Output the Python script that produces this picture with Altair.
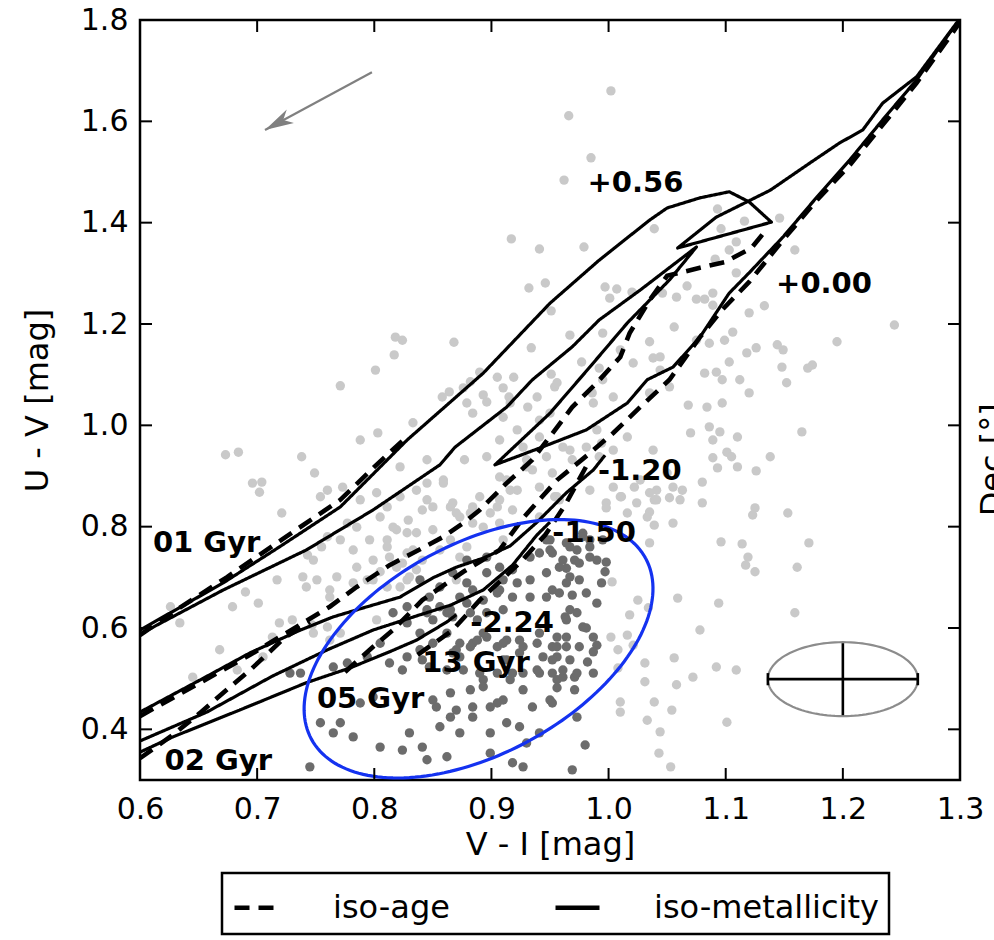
import math
import altair as alt
import pandas as pd

# ---------------- values ----------------
X_DOM = [0.6, 1.3]
Y_DOM = [0.3, 1.8]
x_ticks = [0.6, 0.7, 0.8, 0.9, 1.0, 1.1, 1.2, 1.3]
y_ticks = [0.4, 0.6, 0.8, 1.0, 1.2, 1.4, 1.6, 1.8]

# light grey clusters (whole sample)
light_pts = [
    (0.917,1.368),(0.941,1.348),(0.932,1.271),(0.946,1.281),(0.951,1.226),(0.818,1.174),(0.824,1.168),
    (0.868,1.164),(0.817,1.139),(0.934,1.153),(0.801,1.109),(0.771,1.078),(0.905,1.095),(0.919,1.095),
    (0.910,1.074),(0.951,1.101),(0.954,1.076),(0.890,1.105),(0.882,1.086),(0.876,1.074),(0.864,1.066),
    (0.858,1.056),(0.893,1.060),(0.915,1.056),(0.939,1.056),
    (1.002,1.660),(0.966,1.611),(0.985,1.528),(0.962,1.484),(1.039,1.388),(0.979,1.352),(1.093,1.427),
    (1.116,1.403),(1.096,1.388),(1.146,1.409),(1.159,1.346),(1.103,1.346),(1.109,1.362),(1.091,1.328),
    (0.997,1.273),(1.007,1.269),(1.001,1.251),(1.020,1.263),(1.067,1.275),(1.058,1.253),(1.046,1.261),
    (1.075,1.249),(1.082,1.249),(1.089,1.261),(1.089,1.237),(1.120,1.222),(1.133,1.236),(1.109,1.301),
    (1.056,1.194),(0.967,1.178),(0.995,1.182),(1.035,1.165),(1.010,1.149),(1.075,1.168),(1.106,1.184),
    (1.099,1.168),(1.118,1.143),(1.126,1.153),(1.144,1.159),(1.149,1.149),(1.244,1.198),(1.195,1.165),
    (1.174,1.119),(1.170,1.113),(1.148,1.115),(1.103,1.125),(1.082,1.103),(1.092,1.105),(1.097,1.090),
    (1.112,1.090),(1.120,1.064),(1.152,1.084),(1.021,1.123),(1.038,1.133),(1.044,1.109),(0.992,1.113),
    (0.977,1.125),(0.986,1.064),(1.052,1.076),(1.035,1.064),
    (1.165,0.987),(1.068,1.040),(1.084,1.036),(1.097,1.044),(1.086,0.997),(1.095,0.987),(1.110,0.977),
    (1.070,0.985),(1.089,0.971),(1.101,0.947),(1.105,0.938),(1.089,0.936),(1.093,0.916),(1.110,0.918),
    (1.126,0.910),(1.138,0.938),(1.080,0.888),(1.080,0.847),(1.063,0.872),(1.055,0.878),(1.052,0.857),
    (1.035,0.867),(1.041,0.872),(1.022,0.878),(1.011,0.859),(0.998,0.847),(1.035,0.829),(1.039,0.853),
    (1.055,0.807),(1.039,0.803),(1.033,0.819),(1.125,0.837),(1.123,0.823),(1.153,0.827),(1.096,0.770),
    (1.114,0.766),(1.171,0.768),(1.119,0.740),(1.117,0.724),(1.125,0.711),(1.161,0.720),(1.035,0.768),
    (1.003,0.691),(1.025,0.655),(1.059,0.659),(1.094,0.649),(1.159,0.630),(1.018,0.626),(1.034,0.640),
    (1.078,0.596),(1.002,0.582),(1.016,0.586),(1.021,0.566),(1.008,0.557),(1.056,0.541),(1.031,0.531),
    (1.008,0.521),(1.092,0.523),(1.109,0.517),(1.072,0.503),(1.031,0.494),(1.058,0.488),(1.010,0.454),
    (1.039,0.454),(1.054,0.438),(1.010,0.434),(1.033,0.418),(1.101,0.414),(1.044,0.395),(1.043,0.353),
    (1.053,0.326),
    (0.673,0.942),(0.684,0.947),(0.738,0.938),(0.749,0.906),(0.696,0.886),(0.704,0.888),(0.702,0.868),
    (0.721,0.827),(0.754,0.859),(0.760,0.872),(0.773,0.878),(0.788,0.853),(0.802,0.867),(0.805,0.819),
    (0.811,0.839),(0.822,0.859),(0.822,0.918),(0.836,0.872),(0.845,0.932),(0.845,0.853),(0.850,0.839),
    (0.859,0.892),(0.867,0.847),(0.873,0.819),(0.877,0.932),(0.841,0.833),(0.829,0.813),(0.819,0.794),
    (0.836,0.788),(0.850,0.794),(0.811,0.774),(0.796,0.774),(0.782,0.754),(0.771,0.774),(0.760,0.780),
    (0.755,0.760),(0.743,0.744),(0.785,0.720),(0.799,0.734),(0.813,0.740),(0.824,0.728),(0.833,0.754),
    (0.799,0.695),(0.811,0.681),(0.822,0.681),(0.836,0.715),(0.828,0.695),(0.805,0.711),(0.856,0.754),
    (0.865,0.774),(0.873,0.740),(0.768,0.701),(0.782,0.689),(0.739,0.701),(0.717,0.695),(0.701,0.649),
    (0.690,0.671),(0.679,0.642),(0.730,0.616),(0.747,0.606),(0.762,0.661),(0.668,0.557),(0.713,0.582),
    (0.645,0.503),(0.626,0.642),(0.634,0.610),(0.762,0.576),
    (0.788,0.971),(0.803,0.985),(0.833,1.005),(0.884,1.024),(0.916,1.044),(0.941,1.010),(0.950,1.024),
    (0.922,0.991),(0.907,0.971),(0.927,0.957),(0.947,0.938),(0.935,0.912),(0.952,0.906),(0.913,0.892),
    (0.922,0.872),(0.941,0.878),(0.954,0.859),(0.907,0.853),(0.884,0.839),(0.899,0.827),(0.870,0.827),
    (0.884,0.807),(0.907,0.807),(0.941,0.819),
    (0.879,1.044),(0.896,1.046),(0.910,1.016),(0.931,1.036),(0.987,1.044),(1.004,1.056),(0.995,1.090),
    (0.956,1.084),(1.016,0.977),(1.004,0.951),(0.992,0.938),(0.981,0.957),(0.967,0.951),(0.969,0.932),
    (0.941,0.977),(0.930,0.932),(0.907,0.898),(0.859,0.886),(0.845,0.886),(0.896,0.938),(1.044,1.135),
    (1.086,1.162),
    (0.994,0.965),(1.010,0.859),(1.024,0.847),(1.041,0.853),(1.038,0.951),(1.050,0.906),(0.958,0.853),
    (0.998,0.837),(1.027,0.892),(1.061,0.853),(1.004,0.878),(0.984,0.872),(1.016,0.827),(0.956,0.859),
    (0.916,0.872),(0.905,0.839),(0.918,0.833),(0.890,0.859),(0.882,0.827),(0.865,0.839),(0.930,0.918),
    (0.961,0.957),(0.990,0.991),(0.705,0.543),(0.719,0.610),(0.683,0.517),
    (0.785,0.799),(0.816,0.799),(0.828,0.788),(0.811,0.760),(0.828,0.748),(0.841,0.734),(0.819,0.720),
    (0.794,0.695),(0.830,0.701),(0.748,0.734),(0.751,0.695),(0.742,0.681),(0.762,0.675),(0.748,0.590),
    (0.760,0.602),(0.771,0.590),(0.802,0.616),(0.777,0.807),(0.879,0.760),(0.893,0.799),(0.910,0.774),
    (0.870,0.695),
]

# dark grey clusters (selected sample)
dark_pts = [
    (0.728,0.511),(0.737,0.511),(0.754,0.413),(0.771,0.413),(0.782,0.385),(0.765,0.393),(0.805,0.365),
    (0.824,0.359),(0.830,0.393),(0.841,0.365),(0.865,0.424),(0.856,0.405),(0.873,0.393),(0.884,0.424),
    (0.899,0.393),(0.913,0.413),(0.924,0.405),(0.930,0.373),(0.941,0.393),(0.845,0.340),(0.862,0.346),
    (0.899,0.353),(0.918,0.334),(0.927,0.326),(0.745,0.326),(0.788,0.452),(0.799,0.464),(0.850,0.458),
    (0.865,0.472),(0.882,0.478),(0.893,0.498),(0.905,0.511),(0.916,0.498),(0.927,0.478),(0.941,0.511),
    (0.956,0.498),(0.950,0.458),(0.935,0.444),(0.905,0.452),(0.884,0.444),(0.870,0.438),(0.913,0.576),
    (0.927,0.563),(0.941,0.590),(0.952,0.563),(0.884,0.570),(0.873,0.543),(0.850,0.570),(0.839,0.590),
    (0.828,0.610),(0.816,0.630),(0.828,0.642),(0.845,0.636),(0.862,0.630),(0.805,0.570),(0.794,0.543),
    (0.777,0.531),(0.765,0.523),(0.813,0.531),(0.824,0.517),
    (0.952,0.748),(0.971,0.734),(0.964,0.718),(0.967,0.701),(0.984,0.740),(0.994,0.689),(0.998,0.730),
    (0.997,0.711),(0.952,0.675),(0.958,0.669),(0.969,0.665),(0.967,0.636),(0.990,0.649),(0.963,0.622),
    (0.981,0.600),(0.956,0.582),(0.964,0.563),(0.990,0.566),(0.987,0.553),(0.982,0.533),(0.956,0.543),
    (0.952,0.511),(0.961,0.503),(0.971,0.503),(0.987,0.511),(0.956,0.482),(0.971,0.478),(0.952,0.452),
    (0.973,0.424),(0.980,0.369),(0.969,0.320),(0.978,0.787),(0.984,0.774),(0.950,0.774),(0.967,0.760),
    (0.950,0.754),(0.941,0.748),(0.933,0.740),(0.918,0.715),(0.907,0.720),(0.896,0.709),(0.884,0.675),
    (0.879,0.689),(0.922,0.689),(0.933,0.695),(0.947,0.709),(0.958,0.720),(0.964,0.689),(0.975,0.695),
    (0.981,0.669),(0.947,0.661),(0.933,0.661),(0.918,0.661),(0.907,0.675),(0.910,0.636),(0.896,0.630),
    (0.882,0.630),(0.873,0.661),(0.867,0.622),(0.856,0.642),(0.847,0.661),(0.850,0.616),(0.964,0.616),
    (0.973,0.630),(0.978,0.602),(0.987,0.582),(0.975,0.563),(0.964,0.582),(0.956,0.563),(0.952,0.537),
    (0.967,0.537),(0.973,0.511),(0.961,0.517),(0.939,0.570),(0.924,0.576),(0.910,0.570),(0.896,0.582),
    (0.888,0.576),(0.873,0.570),(0.862,0.590),(0.924,0.551),(0.913,0.537),(0.944,0.543),(0.939,0.517),
    (0.927,0.511),(0.918,0.511),(0.890,0.511),(0.876,0.517),(0.862,0.517),(0.847,0.523),(0.839,0.557),
    (0.867,0.551),(0.947,0.774),(0.964,0.768),(0.973,0.754),(0.990,0.734),(0.995,0.774),(0.978,0.780),
    (0.984,0.760),(0.961,0.734),(0.975,0.728),(0.879,0.734),(0.896,0.740),(0.867,0.709),(0.856,0.681),
    (0.839,0.695),(0.845,0.630),(0.828,0.543),(0.841,0.537),(0.870,0.557),(0.882,0.563),(0.893,0.590),
    (0.905,0.563),(0.910,0.537),(0.865,0.636),(0.879,0.649),(0.893,0.655),(0.905,0.669),(0.910,0.695),
    (0.888,0.616),(0.853,0.444),(0.893,0.484),(0.899,0.444),(0.910,0.458),
]

# iso-metallicity model lines (solid)
met_p056 = [(0.600,0.596),(0.671,0.689),(0.719,0.760),(0.771,0.839),(0.828,0.971),(0.893,1.103),
            (0.950,1.241),(0.992,1.326),(1.035,1.405),(1.050,1.429),(1.078,1.449),(1.103,1.461),
            (1.120,1.441),(1.139,1.401),(1.059,1.350),(1.092,1.411),(1.138,1.464),(1.172,1.518),
            (1.197,1.557),(1.217,1.583),(1.234,1.636),(1.263,1.688),(1.297,1.794),(1.300,1.800)]
met_p000 = [(0.600,0.588),(0.671,0.675),(0.742,0.754),(0.799,0.833),(0.856,0.922),(0.869,0.957),
            (0.913,1.036),(0.935,1.090),(0.969,1.155),(0.992,1.208),(1.027,1.267),(1.075,1.352),
            (1.052,1.287),(1.016,1.202),(0.984,1.115),(0.950,1.024),(0.903,0.922),(0.941,0.955),
            (0.981,0.991),(1.016,1.044),(1.033,1.090),(1.055,1.115),(1.078,1.174),(1.103,1.261),
            (1.120,1.301),(1.149,1.372),(1.178,1.451),(1.206,1.524),(1.234,1.603),(1.263,1.682),
            (1.291,1.774),(1.300,1.800)]
met_m120 = [(0.600,0.434),(0.651,0.497),(0.694,0.551),(0.737,0.596),(0.765,0.622),(0.794,0.642),
            (0.822,0.661),(0.850,0.699),(0.870,0.720),(0.893,0.738),(0.916,0.762),(0.939,0.809),
            (0.964,0.867),(0.987,0.912),(0.997,0.941)]
met_m150 = [(0.600,0.377),(0.657,0.434),(0.713,0.505),(0.760,0.557),(0.799,0.596),(0.839,0.626),
            (0.865,0.645),(0.893,0.675),(0.918,0.724),(0.939,0.784),(0.950,0.809)]
met_m224 = [(0.600,0.355),(0.628,0.385),(0.685,0.438),(0.742,0.492),(0.779,0.521),(0.813,0.553),
            (0.836,0.576),(0.862,0.612),(0.870,0.626)]

# iso-age model lines (dashed)
age_01 = [(0.600,0.586),(0.626,0.628),(0.674,0.700),(0.722,0.776),(0.771,0.853),(0.800,0.918),
          (0.828,0.978)]
age_02 = [(0.600,0.343),(0.628,0.389),(0.651,0.432),(0.677,0.484),(0.694,0.517),(0.724,0.582),
          (0.745,0.612)]
age_02b = [(0.600,0.426),(0.694,0.547),(0.762,0.642),(0.785,0.681),(0.813,0.724),(0.833,0.748),
           (0.859,0.780),(0.876,0.807),(0.890,0.833),(0.913,0.886),(0.935,0.932),(0.969,1.036),
           (0.990,1.084),(1.010,1.135),(1.018,1.182),(1.035,1.247),(1.050,1.295),(1.078,1.311),
           (1.099,1.322),(1.122,1.350),(1.136,1.390)]
age_05 = [(0.775,0.513),(0.799,0.563),(0.816,0.596),(0.841,0.655),(0.876,0.711),(0.907,0.754),
          (0.927,0.817),(0.956,0.892),(0.984,0.945),(1.004,0.985),(1.027,1.036),(1.052,1.090),
          (1.078,1.174),(1.097,1.228),(1.120,1.283),(1.149,1.366),(1.178,1.445),(1.206,1.514),
          (1.234,1.593),(1.263,1.676),(1.291,1.766),(1.300,1.796)]
age_13 = [(0.837,0.547),(0.867,0.596),(0.890,0.655),(0.924,0.728),(0.946,0.784),(0.963,0.843),
          (0.984,0.932)]

# in-panel labels
lab_text = ["+0.56", "+0.00", "-1.20", "-1.50", "-2.24", "01 Gyr", "02 Gyr", "05 Gyr", "13 Gyr"]
lab_x = [0.982, 1.143, 0.991, 0.952, 0.882, 0.611, 0.621, 0.751, 0.841]
lab_y = [1.461, 1.261, 0.892, 0.770, 0.592, 0.750, 0.320, 0.442, 0.513]

# reddening arrow
arrow_from = (0.798, 1.697)
arrow_to = (0.7067, 1.583)

# typical error (ellipse + cross)
err_center = (1.200, 0.499)
err_dx = 0.064
err_dy = 0.073
err_bar_dy = 0.071

# blue selection ellipse (centre in data, semi-axes in screen pixels, tilt in degrees)
blue_center = (0.889, 0.559)
blue_semi_px = (190.0, 105.0)
blue_tilt = 28.4

# clipped label of the neighbouring panel
side_text = ["Dec [°]"]
side_pos = (1.337, 0.932)

# ---------------- chart ----------------
W, H = 820, 760
px_x = W / (X_DOM[1] - X_DOM[0])
px_y = H / (Y_DOM[1] - Y_DOM[0])

XS = alt.Scale(domain=X_DOM, nice=False, zero=False)
YS = alt.Scale(domain=Y_DOM, nice=False, zero=False)
XAX = alt.Axis(values=x_ticks, format=".1f", ticks=False, tickSize=0, domain=False, grid=False,
               labelFontSize=30, labelPadding=14, labelFlush=False, labelOverlap=False,
               labelColor="black", titleFontSize=32, titleFontWeight="normal", titlePadding=5,
               titleColor="black")
YAX = alt.Axis(values=y_ticks, format=".1f", ticks=False, tickSize=0, domain=False, grid=False,
               labelFontSize=30, labelPadding=12, labelFlush=False, labelOverlap=False,
               labelColor="black", titleFontSize=32, titleFontWeight="normal", titlePadding=26,
               titleColor="black")


def X(field="x"):
    return alt.X(f"{field}:Q", scale=XS, axis=XAX, title="V - I [mag]")


def Y(field="y"):
    return alt.Y(f"{field}:Q", scale=YS, axis=YAX, title="U - V [mag]")


light_df = pd.DataFrame(light_pts, columns=["x", "y"])
dark_df = pd.DataFrame(dark_pts, columns=["x", "y"])


def line_frame(series, kind):
    rows = []
    for name, pts in series:
        for i, (xv, yv) in enumerate(pts):
            rows.append({"line": name, "idx": i, "x": xv, "y": yv, "type": kind})
    return pd.DataFrame(rows)


met_df = line_frame([("m056", met_p056), ("m000", met_p000), ("m120", met_m120),
                     ("m150", met_m150), ("m224", met_m224)], "iso-metallicity")
age_df = line_frame([("a01", age_01), ("a02", age_02), ("a02b", age_02b),
                     ("a05", age_05), ("a13", age_13)], "iso-age")

# ellipses
blue_rows = []
phi = math.radians(blue_tilt)
a_px, b_px = blue_semi_px
for k in range(181):
    t = 2 * math.pi * k / 180
    ox = a_px * math.cos(t) * math.cos(phi) + b_px * math.sin(t) * math.sin(phi)
    oy = -a_px * math.cos(t) * math.sin(phi) + b_px * math.sin(t) * math.cos(phi)
    blue_rows.append({"idx": k, "x": blue_center[0] + ox / px_x, "y": blue_center[1] - oy / px_y})
blue_df = pd.DataFrame(blue_rows)

err_rows = []
for k in range(121):
    t = 2 * math.pi * k / 120
    err_rows.append({"idx": k, "x": err_center[0] + err_dx * math.cos(t),
                     "y": err_center[1] + err_dy * math.sin(t)})
err_df = pd.DataFrame(err_rows)

cx, cy = err_center
cross_df = pd.DataFrame([
    {"x": cx - err_dx, "x2": cx + err_dx, "y": cy, "y2": cy},
    {"x": cx, "x2": cx, "y": cy - err_bar_dy, "y2": cy + err_bar_dy},
    {"x": cx - err_dx, "x2": cx - err_dx, "y": cy - 0.012, "y2": cy + 0.012},
    {"x": cx + err_dx, "x2": cx + err_dx, "y": cy - 0.012, "y2": cy + 0.012},
])

arrow_df = pd.DataFrame([{"x": arrow_from[0], "y": arrow_from[1], "x2": arrow_to[0], "y2": arrow_to[1]}])
head_df = pd.DataFrame([{"x": arrow_to[0], "y": arrow_to[1]}])
dxp = (arrow_to[0] - arrow_from[0]) * px_x
dyp = -(arrow_to[1] - arrow_from[1]) * px_y
head_angle = (math.degrees(math.atan2(dxp, -dyp)) + 360) % 360

lab_df = pd.DataFrame({"x": lab_x, "y": lab_y, "t": lab_text})
side_df = pd.DataFrame({"x": [side_pos[0]], "y": [side_pos[1]], "t": side_text})
xt_df = pd.DataFrame({"x": x_ticks})
yt_df = pd.DataFrame({"y": y_ticks})

light = alt.Chart(light_df).mark_circle(size=88, color="#c9c9c9", opacity=1).encode(x=X(), y=Y())
dark = alt.Chart(dark_df).mark_circle(size=88, color="#6c6c6c", opacity=1).encode(x=X(), y=Y())

LEG = alt.Legend(title=None, orient="none", legendX=82, legendY=853, direction="horizontal",
                 symbolType="stroke", symbolSize=1936, symbolStrokeWidth=4.5,
                 symbolStrokeColor="black", labelFontSize=32, labelColor="black",
                 labelOffset=52, columnPadding=96, padding=10, strokeColor="black",
                 fillColor="white", labelLimit=600)
DASH = alt.StrokeDash("type:N",
                      scale=alt.Scale(domain=["iso-age", "iso-metallicity"], range=[[15, 9], [1, 0]]),
                      legend=LEG)

met_lines = alt.Chart(met_df).mark_line(color="black", clip=True, strokeWidth=3.2, strokeJoin="round").encode(
    x=X(), y=Y(), detail="line:N", order="idx:Q", strokeDash=DASH)
age_lines = alt.Chart(age_df).mark_line(color="black", clip=True, strokeWidth=4.6, strokeCap="butt").encode(
    x=X(), y=Y(), detail="line:N", order="idx:Q", strokeDash=DASH)

blue = alt.Chart(blue_df).mark_line(color="#1432f0", strokeWidth=3.2, clip=True).encode(
    x=X(), y=Y(), order="idx:Q")
err_ell = alt.Chart(err_df).mark_line(color="#8c8c8c", strokeWidth=2.2).encode(x=X(), y=Y(), order="idx:Q")
cross = alt.Chart(cross_df).mark_rule(color="black", strokeWidth=2.6).encode(
    x=X(), y=Y(), x2="x2:Q", y2="y2:Q")

arrow = alt.Chart(arrow_df).mark_rule(color="#808080", strokeWidth=2.2).encode(
    x=X(), y=Y(), x2="x2:Q", y2="y2:Q")
head = alt.Chart(head_df).mark_point(
    shape="M0,0L0.42,1.6L0,1.15L-0.42,1.6Z", filled=True, size=1300, angle=round(head_angle, 1),
    color="#808080", opacity=1, strokeWidth=0).encode(x=X(), y=Y())

labels = alt.Chart(lab_df).mark_text(align="left", baseline="alphabetic", fontSize=29,
                                     fontWeight="bold", color="black").encode(x=X(), y=Y(), text="t:N")
side = alt.Chart(side_df).mark_text(angle=270, align="center", baseline="alphabetic", fontSize=32,
                                    color="black").encode(x=X(), y=Y(), text="t:N")

xt_b = alt.Chart(xt_df).mark_rule(color="black", strokeWidth=2).encode(x=X(), y=alt.value(H), y2=alt.value(H - 12))
xt_t = alt.Chart(xt_df).mark_rule(color="black", strokeWidth=2).encode(x=X(), y=alt.value(0), y2=alt.value(12))
yt_l = alt.Chart(yt_df).mark_rule(color="black", strokeWidth=2).encode(y=Y(), x=alt.value(0), x2=alt.value(12))
yt_r = alt.Chart(yt_df).mark_rule(color="black", strokeWidth=2).encode(y=Y(), x=alt.value(W), x2=alt.value(W - 12))

chart = alt.layer(
    light, dark, met_lines, age_lines, blue, err_ell, cross, arrow, head, labels, side,
    xt_b, xt_t, yt_l, yt_r
).properties(
    width=W, height=H,
    autosize=alt.AutoSizeParams(type="none"),
    padding={"left": 140, "top": 20, "right": 34, "bottom": 160},
).configure(font="DejaVu Sans").configure_view(stroke="black", strokeWidth=2.5).configure_legend(strokeWidth=2.5)

chart.save("out.html", embed_options={"renderer": "svg", "actions": False})
